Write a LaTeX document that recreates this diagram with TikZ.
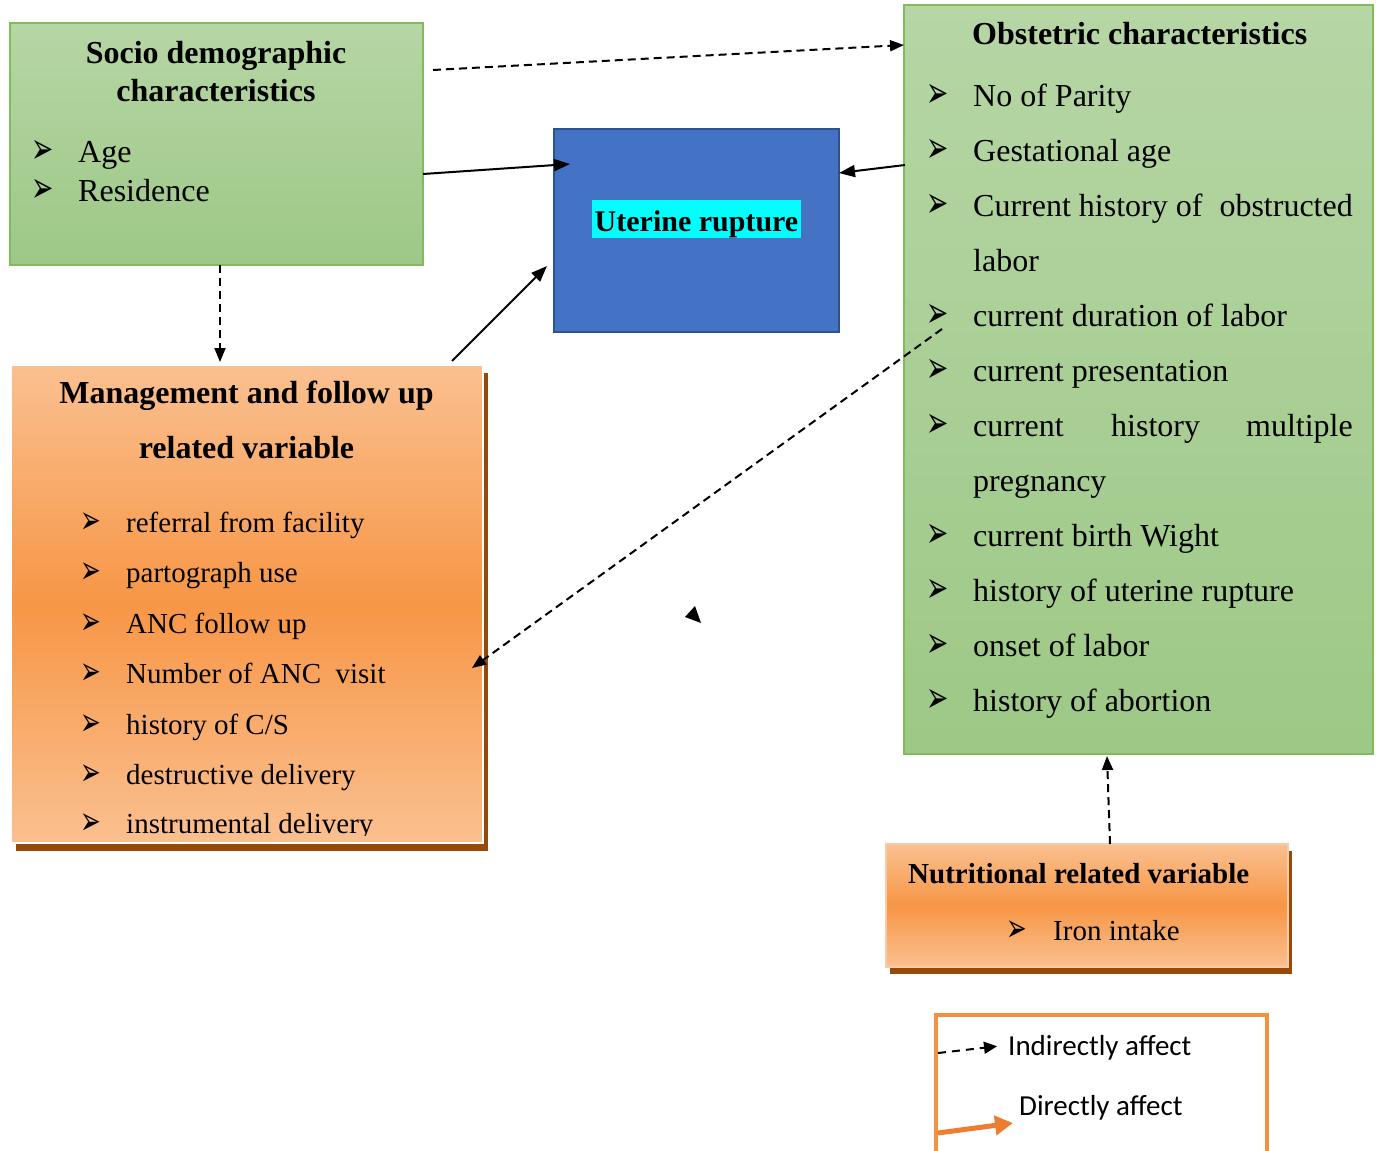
\documentclass[tikz,border=0pt]{standalone}
\usepackage{fontspec}
\usepackage{graphicx}
\setmainfont{Liberation Serif}
\newfontfamily\calib{Carlito}
\newfontfamily\dvs{DejaVu Sans}
\usetikzlibrary{arrows.meta,calc}
\definecolor{gtop}{RGB}{182,214,165}
\definecolor{gbot}{RGB}{157,200,134}
\definecolor{gedge}{RGB}{130,187,93}
\definecolor{olight}{RGB}{250,192,144}
\definecolor{omid}{RGB}{247,150,70}
\definecolor{nedge}{RGB}{248,203,173}
\definecolor{shadowbrown}{RGB}{152,72,7}
\definecolor{ublue}{RGB}{68,114,196}
\definecolor{ubluedge}{RGB}{47,82,143}
\definecolor{legor}{RGB}{244,145,64}
\definecolor{dirarrow}{RGB}{237,125,49}
\definecolor{hlcyan}{RGB}{0,255,255}
\newcommand{\bigbul}{\scalebox{0.95}[1.55]{\dvs\fontsize{28}{30}\selectfont ➢}}
\newcommand{\smallbul}{\scalebox{0.95}[1.5]{\dvs\fontsize{26}{28}\selectfont ➢}}
\begin{document}
\begin{tikzpicture}[x=1pt,y=-1pt,
  rbox/.style={anchor=north west, inner sep=0pt, outer sep=0pt},
  greenbox/.style={rbox, draw=gedge, line width=1.5pt, top color=gtop, bottom color=gbot},
  orangebox/.style={rbox, line width=2pt, top color=olight, bottom color=olight, middle color=omid},
  shadowbox/.style={rbox, fill=shadowbrown},
  ttl/.style={anchor=base, inner sep=0pt, font=\bfseries\fontsize{32}{38}\selectfont},
  ttlw/.style={anchor=base west, inner sep=0pt, font=\bfseries\fontsize{32}{38}\selectfont},
  itm/.style={anchor=base west, inner sep=0pt, font=\fontsize{32}{38}\selectfont},
  itme/.style={anchor=base east, inner sep=0pt, font=\fontsize{32}{38}\selectfont},
  sitm/.style={anchor=base west, inner sep=0pt, font=\fontsize{29}{34}\selectfont},
  bul/.style={anchor=base west, inner sep=0pt, text height=20pt, text depth=0pt},
  leg/.style={anchor=base west, inner sep=0pt, font=\calib\fontsize{29}{34}\selectfont},
  sarr/.style={-{Triangle[length=16pt,width=12pt]}, line width=2pt},
  darr/.style={-{Triangle[length=14pt,width=11pt]}, line width=2pt, dash pattern=on 8pt off 5pt}
]
\clip (0,0) rectangle (1379,1151);
\fill[white] (0,0) rectangle (1379,1151);

% ---------- Socio demographic ----------
\node[greenbox, minimum width=413pt, minimum height=242pt] (socio) at (10,23) {};
\node[ttl] (st1) at (216,63) {Socio demographic};
\node[ttl] (st2) at (216,101) {characteristics};
\node[bul] (sb1) at (31,163) {\bigbul};
\node[itm] (si1) at (78,162) {Age};
\node[bul] (sb2) at (31,202) {\bigbul};
\node[itm] (si2) at (78,201) {Residence};

% ---------- Obstetric ----------
\node[greenbox, minimum width=469pt, minimum height=749pt] (obst) at (904,5) {};
\node[ttlw] (ot) at (972,44) {Obstetric characteristics};
\node[bul] (ob1) at (926,107) {\bigbul};  \node[itm] (oi1) at (973,106) {No of Parity};
\node[bul] (ob2) at (926,162) {\bigbul};  \node[itm] (oi2) at (973,161) {Gestational age};
\node[bul] (ob3) at (926,217) {\bigbul};  \node[itm] (oi3) at (973,216) {Current history of};
\node[itme] (oi3b) at (1353,216) {obstructed};
\node[itm] (oi3c) at (973,271) {labor};
\node[bul] (ob4) at (926,327) {\bigbul};  \node[itm] (oi4) at (973,326) {current duration of labor};
\node[bul] (ob5) at (926,382) {\bigbul};  \node[itm] (oi5) at (973,381) {current presentation};
\node[bul] (ob6) at (926,437) {\bigbul};  \node[itm] (oi6) at (973,436) {current};
\node[itm] (oi6b) at (1111,436) {history};
\node[itme] (oi6c) at (1353,436) {multiple};
\node[itm] (oi6d) at (973,491) {pregnancy};
\node[bul] (ob7) at (926,547) {\bigbul};  \node[itm] (oi7) at (973,546) {current birth Wight};
\node[bul] (ob8) at (926,602) {\bigbul};  \node[itm] (oi8) at (973,601) {history of uterine rupture};
\node[bul] (ob9) at (926,657) {\bigbul};  \node[itm] (oi9) at (973,656) {onset of labor};
\node[bul] (ob10) at (926,712) {\bigbul}; \node[itm] (oi10) at (973,711) {history of abortion};

% ---------- Uterine rupture ----------
\node[rbox, draw=ubluedge, fill=ublue, line width=2pt, minimum width=285pt, minimum height=203pt] (uter) at (554,129) {};
\node[anchor=base, fill=hlcyan, inner xsep=2.5pt, inner ysep=0pt, text height=31pt, text depth=7pt,
      font=\bfseries\fontsize{30}{36}\selectfont] (ut) at (696.5,231) {Uterine rupture};

% ---------- Management ----------
\node[shadowbox, minimum width=472pt, minimum height=478pt] (mgmtsh) at (16,373) {};
\node[orangebox, draw=white, minimum width=472pt, minimum height=478pt] (mgmt) at (11,365) {};
\node[ttl] (mt1) at (246.5,403) {Management and follow up};
\node[ttl] (mt2) at (246.5,458) {related variable};
\node[bul] (mb1) at (80,533) {\smallbul}; \node[sitm] (mi1) at (126,532) {referral from facility};
\node[bul] (mb2) at (80,583) {\smallbul}; \node[sitm] (mi2) at (126,582) {partograph use};
\node[bul] (mb3) at (80,634) {\smallbul}; \node[sitm] (mi3) at (126,633) {ANC follow up};
\node[bul] (mb4) at (80,684) {\smallbul}; \node[sitm] (mi4) at (126,683) {Number of ANC\ \ visit};
\node[bul] (mb5) at (80,735) {\smallbul}; \node[sitm] (mi5) at (126,734) {history of C/S};
\node[bul] (mb6) at (80,785) {\smallbul}; \node[sitm] (mi6) at (126,784) {destructive delivery};
\begin{scope}
\clip (11,800) rectangle (483,835);
\node[bul] (mb7) at (80,834) {\smallbul}; \node[sitm] (mi7) at (126,833) {instrumental delivery};
\end{scope}

% ---------- Nutritional ----------
\node[shadowbox, minimum width=402pt, minimum height=123pt] (nutrsh) at (890,851) {};
\node[orangebox, draw=nedge, minimum width=402pt, minimum height=123pt] (nutr) at (886,844) {};
\node[anchor=base west, inner sep=0pt, font=\bfseries\fontsize{29}{34}\selectfont] (nt) at (908,883) {Nutritional related variable};
\node[bul] (nb1) at (1006,941) {\smallbul}; \node[sitm] (ni1) at (1053,940) {Iron intake};

% ---------- Legend ----------
\node[rbox, draw=legor, line width=4.5pt, minimum width=331pt, minimum height=160pt] (legbox) at (936,1015) {};
\node[leg] (l1) at (1008,1055) {Indirectly affect};
\node[leg] (l2) at (1019,1115) {Directly affect};
\draw[-{Triangle[length=13pt,width=12pt]}, line width=2pt, dash pattern=on 8pt off 6pt]
  ($(legbox.north west)+(2,38)$) -- ($(l1.west)+(-11,-1)$);
\draw[-{Triangle[length=18pt,width=19pt]}, line width=5pt, dirarrow]
  ($(legbox.north west)+(2,118)$) -- ($(legbox.north west)+(77,108)$);

% ---------- Connectors ----------
\draw[darr] ($(socio.north east)+(10,47)$) -- ($(obst.north west)+(0,40)$);
\draw[sarr] ($(socio.north east)+(0,151)$) -- ($(uter.north west)+(16,35)$);
\draw[sarr] ($(obst.north west)+(1,160)$) -- ($(uter.north east)+(0,44)$);
\draw[sarr] ($(mgmt.north west)+(441,-4)$) -- ($(uter.north west)+(-7,137)$);
\draw[darr] ($(socio.south west)+(210,0)$) -- ($(mgmt.north west)+(209,-3)$);
\draw[darr] ($(obst.north west)+(38,324)$) -- ($(mgmt.north east)+(-11,303)$);
\draw[darr] ($(nutr.north west)+(224,0)$) -- ($(obst.south west)+(203,2)$);

% stray arrowhead
\fill (685,617) -- (695,606) -- (701,623) -- cycle;
\end{tikzpicture}
\end{document}
